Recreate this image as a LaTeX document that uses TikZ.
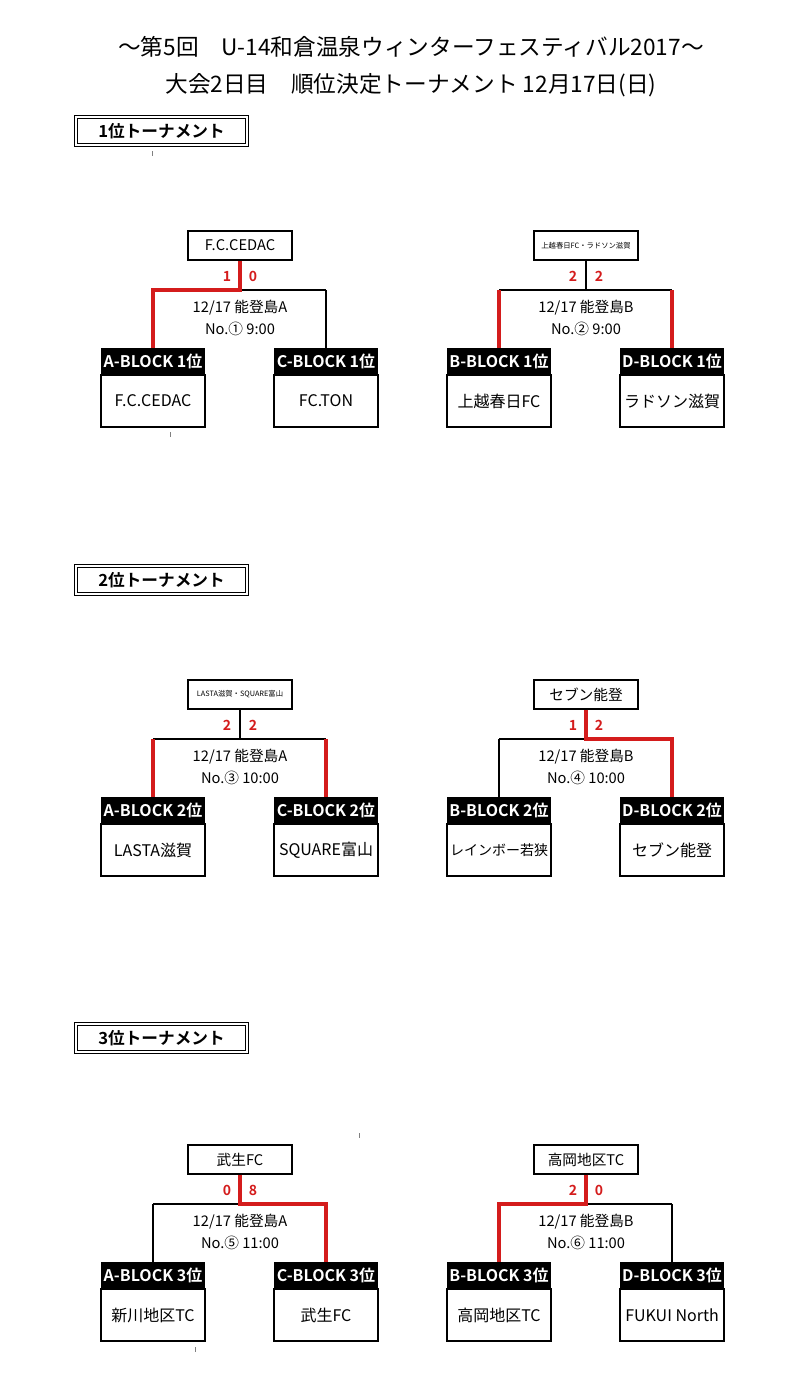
\documentclass[tikz,border=0pt]{standalone}
\usepackage{fontspec}
\setmainfont{Noto Sans CJK JP}[BoldFont={Noto Sans CJK JP Bold}]
\usetikzlibrary{positioning}
\definecolor{scorered}{RGB}{212,28,28}
\tikzset{
  bline/.style={line width=1.1pt},
  winline/.style={line width=2.6pt,draw=scorered},
  winbox/.style={draw,line width=1.1pt,minimum width=78pt,minimum height=21.75pt,inner sep=0pt,font=\fontsize{11}{13}\selectfont},
  headbox/.style={fill=black,text=white,minimum width=78pt,minimum height=19.5pt,inner sep=0pt,font=\bfseries\fontsize{12}{14}\selectfont},
  teambox/.style={draw,line width=1.1pt,minimum width=78pt,minimum height=39pt,inner sep=0pt,font=\fontsize{12}{14}\selectfont},
  score/.style={text=scorered,font=\bfseries\fontsize{10.5}{12}\selectfont},
  info/.style={align=center,font=\fontsize{11}{16.5}\selectfont},
  titlebox/.style={draw,double,double distance=1.5pt,line width=0.9pt,minimum width=128pt,minimum height=21pt,inner sep=0pt,font=\bfseries\fontsize{12.5}{14}\selectfont},
  maintitle/.style={font=\fontsize{17}{20}\selectfont},
  tick/.style={line width=0.6pt,gray}
}
\begin{document}
\begin{tikzpicture}[x=0.75pt,y=-0.75pt]
  \useasboundingbox (0,0) rectangle (787,1386);
  % heading
  \node[maintitle] (head1) at (411,47) {～第5回　U-14和倉温泉ウィンターフェスティバル2017～};
  \node[maintitle] (head2) at (411,85) {大会2日目　順位決定トーナメント 12月17日(日)};
  % section titles
  \node[titlebox] (sec1) at (161.5,131) {1位トーナメント};
  \node[titlebox] (sec2) at (161.5,580) {2位トーナメント};
  \node[titlebox] (sec3) at (161.5,1038) {3位トーナメント};
  % brackets
  \foreach \n/\cx/\dy/\lb/\rb/\rk/\teamA/\teamB/\hall/\mno/\tm/\scA/\scB/\win in {
    1/240/0/A/C/1/F.C.CEDAC/FC.TON/A/①/9:00/1/0/F.C.CEDAC,
    2/586/0/B/D/1/上越春日FC/ラドソン滋賀/B/②/9:00/2/2/{\fontsize{5.5}{6}\selectfont 上越春日FC・ラドソン滋賀},
    3/240/449/A/C/2/LASTA滋賀/SQUARE富山/A/③/10:00/2/2/{\fontsize{5.5}{6}\selectfont LASTA滋賀・SQUARE富山},
    4/586/449/B/D/2/{\fontsize{10.5}{12}\selectfont レインボー若狭}/セブン能登/B/④/10:00/1/2/セブン能登,
    5/240/914/A/C/3/新川地区TC/武生FC/A/⑤/11:00/0/8/武生FC,
    6/586/914/B/D/3/高岡地区TC/FUKUI North/B/⑥/11:00/2/0/高岡地区TC}{
    \node[winbox] (w\n) at (\cx,{245.5+\dy}) {\win};
    \coordinate (j\n) at (\cx,{290+\dy});
    \coordinate (l\n) at ({\cx-87},{290+\dy});
    \coordinate (r\n) at ({\cx+86},{290+\dy});
    \node[headbox] (a\n) at ({\cx-87},{361+\dy}) {\lb-BLOCK \rk{}位};
    \node[headbox] (b\n) at ({\cx+86},{361+\dy}) {\rb-BLOCK \rk{}位};
    \node[teambox,below=0pt of a\n] (ta\n) {\teamA};
    \node[teambox,below=0pt of b\n] (tb\n) {\teamB};
    \node[score] (sa\n) at ({\cx-13},{276+\dy}) {\scA};
    \node[score] (sb\n) at ({\cx+13},{276+\dy}) {\scB};
    \node[info] (i\n) at (\cx,{318+\dy}) {12/17 能登島\hall{}\\No.\mno{}\ \tm};
    \draw[bline] (w\n) -- (j\n);
    \draw[bline] (l\n) -- (r\n);
    \draw[bline] (l\n) -- (a\n);
    \draw[bline] (r\n) -- (b\n);
  }
  % winners
  \draw[winline] (w1.south) -- (j1) -- (l1) -- (a1.north);
  \draw[winline] (l2) -- (a2.north);
  \draw[winline] (r2) -- (b2.north);
  \draw[winline] (l3) -- (a3.north);
  \draw[winline] (r3) -- (b3.north);
  \draw[winline] (w4.south) -- (j4) -- (r4) -- (b4.north);
  \draw[winline] (w5.south) -- (j5) -- (r5) -- (b5.north);
  \draw[winline] (w6.south) -- (j6) -- (l6) -- (a6.north);
  % stray marks
  \draw[tick] (152,151) -- (152,156);
  \draw[tick] (170,432) -- (170,437);
  \draw[tick] (359,1133) -- (359,1138);
  \draw[tick] (195,1347) -- (195,1352);
\end{tikzpicture}
\end{document}
